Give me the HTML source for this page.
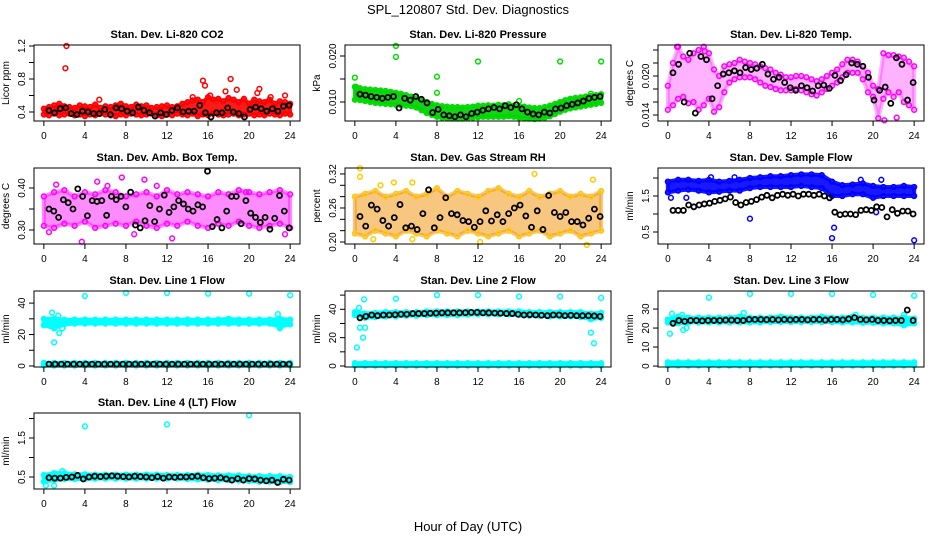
<!DOCTYPE html>
<html><head><meta charset="utf-8"><style>
body{margin:0;background:#fff;}
svg{display:block;font-family:"Liberation Sans",sans-serif;}
</style></head><body>
<svg id="chart" width="936" height="540" viewBox="0 0 936 540">
<text x="468" y="14" text-anchor="middle" font-size="13">SPL_120807  Std. Dev. Diagnostics</text>
<text x="468" y="531" text-anchor="middle" font-size="13">Hour of Day (UTC)</text>
</svg>
<script>
const hourTicks=[0,4,8,12,16,20,24];
const co2Hi=[0.44,0.46,0.48,0.5,0.47,0.46,0.45,0.48,0.47,0.46,0.49,0.45,0.47,0.46,0.48,0.5,0.47,0.46,0.49,0.47,0.48,0.45,0.46,0.47,0.48,0.46,0.47,0.5,0.52,0.54,0.55,0.52,0.58,0.55,0.56,0.53,0.57,0.55,0.52,0.56,0.5,0.55,0.53,0.52,0.55,0.5,0.53,0.52,0.5];
const co2Lo=[0.37,0.36,0.38,0.36,0.37,0.38,0.36,0.37,0.35,0.37,0.36,0.38,0.37,0.36,0.35,0.37,0.36,0.38,0.37,0.36,0.37,0.38,0.36,0.35,0.37,0.36,0.38,0.37,0.36,0.38,0.35,0.37,0.36,0.38,0.37,0.36,0.37,0.38,0.36,0.37,0.38,0.36,0.37,0.36,0.38,0.37,0.36,0.38,0.37];
const co2Black=[0.42,0.39,0.44,0.45,0.38,0.37,0.41,0.4,0.38,0.38,0.43,0.37,0.45,0.44,0.41,0.39,0.46,0.42,0.39,0.35,0.39,0.37,0.42,0.45,0.4,0.41,0.41,0.48,0.39,0.34,0.39,0.39,0.45,0.4,0.38,0.34,0.43,0.46,0.44,0.41,0.44,0.41,0.47,0.48];
const co2OutX=[2.2,2.1,15.5,15.7,18.2,18.8,17.7,21,20.8,14.5,23.5,22.1,5.4,16.2];
const co2OutY=[1.2,0.93,0.78,0.72,0.8,0.67,0.65,0.68,0.63,0.58,0.6,0.58,0.55,0.6];
const presHi=[0.0133,0.013,0.0128,0.0127,0.0126,0.0125,0.0124,0.0122,0.012,0.0118,0.0115,0.0112,0.0108,0.0104,0.01,0.0096,0.0093,0.0091,0.009,0.0089,0.0089,0.0088,0.0089,0.009,0.0092,0.0092,0.0093,0.0092,0.0094,0.0093,0.0095,0.0092,0.0091,0.009,0.0088,0.0087,0.0087,0.0089,0.0092,0.0096,0.01,0.0104,0.0107,0.0109,0.011,0.0112,0.0113,0.0115,0.0117];
const presLo=[0.0105,0.0104,0.0102,0.01,0.0098,0.0097,0.0096,0.0095,0.0094,0.0093,0.0092,0.0091,0.0088,0.0082,0.0076,0.0072,0.0068,0.0066,0.0065,0.0064,0.0064,0.0064,0.0065,0.0066,0.0067,0.0068,0.0068,0.0068,0.0068,0.0068,0.0069,0.0068,0.0066,0.0065,0.0064,0.0063,0.0064,0.0066,0.0069,0.0074,0.0079,0.0083,0.0086,0.0088,0.009,0.0092,0.0094,0.0096,0.0098];
const presBlack=[0.0117,0.0115,0.0112,0.011,0.0108,0.011,0.0112,0.0087,0.0108,0.0104,0.0112,0.0106,0.0098,0.0077,0.0084,0.0072,0.007,0.0068,0.0072,0.0068,0.0075,0.0078,0.0082,0.0085,0.0088,0.0085,0.0092,0.0088,0.0094,0.0085,0.0078,0.0074,0.0072,0.0078,0.0076,0.0085,0.0087,0.0092,0.0095,0.0098,0.0102,0.0108,0.011,0.0112];
const presOutX=[0,4,4,8,8,12,20,24,16,0.1,23];
const presOutY=[0.0153,0.0222,0.0198,0.0155,0.012,0.0188,0.0188,0.0188,0.0102,0.0133,0.0118];
const tempHi=[0.0185,0.022,0.0245,0.023,0.0225,0.0235,0.024,0.0245,0.0235,0.021,0.02,0.0215,0.0218,0.022,0.0225,0.0222,0.022,0.0218,0.0215,0.0212,0.021,0.0205,0.0202,0.0198,0.0198,0.02,0.02,0.0198,0.0195,0.0192,0.0195,0.02,0.0205,0.021,0.0218,0.0225,0.0225,0.0222,0.0215,0.0205,0.0185,0.018,0.0235,0.0232,0.0232,0.023,0.0228,0.0222,0.0215];
const tempLo=[0.0148,0.0155,0.0165,0.0168,0.0158,0.016,0.0148,0.0155,0.0165,0.0145,0.0152,0.0175,0.019,0.0195,0.0198,0.0198,0.0198,0.0195,0.019,0.0185,0.0183,0.018,0.0178,0.0178,0.0178,0.018,0.0178,0.0175,0.0172,0.017,0.0175,0.018,0.0185,0.019,0.0198,0.0205,0.0205,0.0205,0.0195,0.0175,0.0168,0.0135,0.0165,0.0175,0.0168,0.0175,0.016,0.0155,0.0148];
const tempBlack=[0.0205,0.0218,0.016,0.0235,0.0143,0.023,0.0225,0.0165,0.0185,0.0203,0.0205,0.0208,0.0205,0.0213,0.021,0.0212,0.0218,0.0203,0.0195,0.0198,0.019,0.0182,0.0178,0.0185,0.0182,0.0177,0.0185,0.0186,0.0181,0.0201,0.0193,0.0202,0.022,0.0218,0.0215,0.0198,0.0163,0.0178,0.0183,0.0158,0.0228,0.0218,0.0163,0.019];
const tempOutX=[0.9,3.6,21.1,22.3];
const tempOutY=[0.0245,0.0238,0.0132,0.0136];
const ambHi=[0.38,0.39,0.395,0.38,0.39,0.385,0.395,0.39,0.38,0.385,0.39,0.38,0.395,0.385,0.39,0.385,0.38,0.39,0.385,0.395,0.39,0.385,0.39,0.395,0.385];
const ambLo=[0.31,0.305,0.315,0.31,0.32,0.305,0.31,0.315,0.31,0.32,0.31,0.305,0.315,0.31,0.32,0.31,0.305,0.315,0.31,0.32,0.31,0.305,0.31,0.315,0.305];
const ambBlack=[0.35,0.345,0.33,0.372,0.365,0.35,0.398,0.38,0.334,0.37,0.368,0.37,0.335,0.38,0.372,0.38,0.355,0.39,0.312,0.305,0.322,0.358,0.32,0.35,0.383,0.342,0.355,0.37,0.362,0.35,0.345,0.36,0.355,0.44,0.308,0.325,0.305,0.345,0.38,0.38,0.315,0.37,0.34,0.33,0.318,0.33,0.302,0.328,0.382,0.345,0.305];
const ambOutX=[3.7,12.5,11,9.8,1.2,5.2,6.2,19.7,0.5,8.8,23.5,7.6];
const ambOutY=[0.272,0.28,0.405,0.42,0.408,0.415,0.405,0.39,0.295,0.29,0.29,0.425];
const rhHi=[0.28,0.285,0.29,0.28,0.285,0.29,0.28,0.285,0.295,0.28,0.29,0.285,0.28,0.29,0.295,0.285,0.28,0.29,0.28,0.285,0.29,0.28,0.285,0.28,0.29];
const rhLo=[0.215,0.21,0.22,0.215,0.21,0.22,0.215,0.21,0.22,0.215,0.21,0.22,0.215,0.21,0.215,0.22,0.21,0.215,0.22,0.21,0.215,0.22,0.21,0.215,0.22];
const rhBlack=[0.245,0.228,0.265,0.258,0.238,0.228,0.243,0.266,0.225,0.228,0.222,0.25,0.292,0.225,0.243,0.278,0.25,0.248,0.238,0.236,0.226,0.236,0.255,0.237,0.248,0.236,0.25,0.26,0.265,0.246,0.226,0.255,0.222,0.282,0.252,0.245,0.252,0.236,0.236,0.23,0.242,0.258,0.245];
const rhOutX=[0.5,0.5,2.5,3.8,5.6,17.5,23.2,5.6,1.8,12.2,22.6];
const rhOutY=[0.33,0.315,0.3,0.305,0.305,0.32,0.31,0.205,0.205,0.2,0.195];
const flowHi=[1.9,1.95,1.95,1.92,1.95,1.9,1.92,1.95,2.0,2.02,2.05,2.05,2.08,2.1,2.1,2.08,1.9,1.8,1.82,1.85,1.78,1.75,1.75,1.78,1.75];
const flowLo=[1.6,1.65,1.68,1.65,1.6,1.62,1.65,1.65,1.72,1.75,1.75,1.75,1.75,1.78,1.75,1.72,1.5,1.5,1.55,1.55,1.45,1.5,1.5,1.5,1.5];
const flowBlack=[1.1,1.1,1.1,1.25,1.2,1.25,1.28,1.3,1.35,1.38,1.42,1.47,1.32,1.25,1.32,1.35,1.4,1.47,1.52,1.45,1.52,1.55,1.52,1.55,1.5,1.55,1.55,1.52,1.55,1.5,1.45,1.05,0.98,1.0,1.0,0.98,1.1,1.12,1.1,1.2,1.18,0.92,1.12,1.02,1.08,1.08,1.0];
const flowOutX=[8,16,16.2,24,0.3,1.8,20.3,20.8,18.8,4.2,6.5];
const flowOutY=[0.87,0.33,0.62,0.27,1.45,1.45,1.05,1.95,1.95,2.02,2.02];
const baseHi=[2,2,2,2,2,2,2,2,2,2,2,2,2,2,2,2,2,2,2,2,2,2,2,2,2];
const baseLo=[0.3,0.3,0.3,0.3,0.3,0.3,0.3,0.3,0.3,0.3,0.3,0.3,0.3,0.3,0.3,0.3,0.3,0.3,0.3,0.3,0.3,0.3,0.3,0.3,0.3];
const l1Hi=[30,30,29.5,29.5,29.5,29.5,29.5,29.5,29.5,29.5,29.5,29.5,29.5,29.5,29.5,29.5,29.5,29.5,30,29.5,29.5,29.5,29.5,30,29.5];
const l1Lo=[26,24,26.5,27,27,27,27,27,27,27,27,27,27,27,27,27,27,27,27,27,27,27,27,25,26.5];
const l1Black=[1.2,1.2,1.2,1.2,1.2,1.2,1.2,1.2,1.2,1.2,1.2,1.2,1.2,1.2,1.2,1.2,1.2,1.2,1.2,1.2,1.2,1.2,1.2,1.2,1.2,1.2,1.2,1.2,1.2,1.2,1.2,1.2,1.2,1.2,1.2,1.2,1.2,1.2,1.2,1.2];
const l1OutX=[4,8,12,16,20,24,1,0.8,1.4,1.5,1.8,22.8,23];
const l1OutY=[44.5,46.5,46.5,46,46,45,15,34,32,21,24,33,24];
const l2Hi=[38,37,37.5,38,38,38,38,38.5,38.5,38.5,38.5,38.5,38.5,38.5,38.5,38.5,38.5,38,38,38,38,38,38,37,37.5];
const l2Lo=[36,34,34.5,35,35,35.5,35.5,36,36,36,36,36.2,36.5,36.5,36.5,36.5,36,35.5,35.5,35,35,35,34.5,33,34];
const l2Black=[34,35,36,35.5,36,36,36.2,36.5,36.5,37,37,37,37.2,37.3,37.5,37.5,37.5,37.5,37.6,37.8,37.8,37.5,37.5,37.3,37.2,37,37,36.5,36,36.2,36,35.8,35.5,36,36,35.5,35.8,35.5,35.5,35.5,35.3,35];
const l2OutX=[0.2,0.4,0.5,0.8,0.9,1,4,8,12,16,20,24,23,23.3];
const l2OutY=[13,41,27,20,47,27,47.5,50,50,49,49,48,23.5,16];
const l3Hi=[24.5,26,25.5,25.5,25.5,25.5,25.5,26,25.5,25.5,25.5,26,25.5,25.5,25.5,26,25.5,25.5,26,25.5,25.5,25.5,25.5,25.5,25];
const l3Lo=[23,22.5,23,23,23,23,23,23,23,23,23.2,23.2,23.2,23.2,23.2,23.2,23.2,23,23,22.8,22.8,22.5,22.5,21.5,22.5];
const l3Black=[22.5,24,23.5,24,24,23.8,24,24,24,24.2,24.2,24,24,24.5,24.5,24.5,24.4,24.5,24.3,24.5,24.3,24.5,24.5,24.3,24.5,24.5,24.2,24.5,24.5,24.3,24.8,25.5,24.5,24.3,24.5,24,24,23.8,24,24,29.5,24];
const l3OutX=[0.2,0.4,1.5,1.8,1.4,4,8,12,16,20,24,7.4,18.3,23];
const l3OutY=[17,27.5,19,20,27,36,38,38,38,37.5,37,28,27,27];
const l4Hi=[0.55,0.6,0.6,0.57,0.57,0.56,0.56,0.56,0.56,0.56,0.56,0.56,0.55,0.55,0.55,0.56,0.55,0.54,0.54,0.54,0.52,0.52,0.52,0.52,0.5];
const l4Lo=[0.38,0.42,0.45,0.45,0.45,0.46,0.46,0.46,0.46,0.46,0.46,0.46,0.46,0.46,0.45,0.44,0.43,0.42,0.42,0.41,0.4,0.38,0.38,0.37,0.37];
const l4Black=[0.48,0.47,0.47,0.49,0.5,0.54,0.45,0.5,0.52,0.51,0.52,0.53,0.52,0.51,0.5,0.52,0.51,0.5,0.48,0.51,0.47,0.5,0.49,0.5,0.5,0.51,0.52,0.48,0.46,0.47,0.48,0.45,0.42,0.46,0.42,0.46,0.45,0.42,0.4,0.42,0.36,0.44,0.42];
const l4OutX=[4,12,20,0.2,1,1.8];
const l4OutY=[1.8,1.85,2.08,0.28,0.28,0.65];

const NS='http://www.w3.org/2000/svg';
const svg=document.getElementById('chart');
function mk(tag,attrs,parent){const e=document.createElementNS(NS,tag);for(const k in attrs)e.setAttribute(k,attrs[k]);(parent||svg).appendChild(e);return e;}

const cols=[34,345,658], colW=266, rows=[45,168,291,413], rowH=76;
const panels=[
 {name:'co2',title:'Stan. Dev. Li-820 CO2',ylab:'Licor ppm',c:0,r:0,dom:[0.291,1.212],ticks:[0.4,0.6,0.8,1.0,1.2],labs:['0.4',null,'0.8',null,'1.2'],col:'#ff0000',fill:'#ff0000',op:0.9,bands:[[co2Hi,co2Lo]],black:co2Black,ox:co2OutX,oy:co2OutY},
 {name:'pressure',title:'Stan. Dev. Li-820 Pressure',ylab:'kPa',c:1,r:0,dom:[0.00587,0.02239],ticks:[0.010,0.015,0.020],labs:['0.010',null,'0.020'],col:'#00dd00',fill:'#00cc00',op:0.9,bands:[[presHi,presLo]],black:presBlack,ox:presOutX,oy:presOutY},
 {name:'temp',title:'Stan. Dev. Li-820 Temp.',ylab:'degrees C',c:2,r:0,dom:[0.01308,0.02477],ticks:[0.014,0.016,0.018,0.020,0.022,0.024],labs:['0.014',null,null,'0.020',null,null],col:'#ff00ff',fill:'#ff00ff',op:0.3,bands:[[tempHi,tempLo]],black:tempBlack,ox:tempOutX,oy:tempOutY},
 {name:'amb-box-temp',title:'Stan. Dev. Amb. Box Temp.',ylab:'degrees C',c:0,r:1,dom:[0.2667,0.4476],ticks:[0.30,0.35,0.40],labs:['0.30',null,'0.40'],col:'#ff00ff',fill:'#ff00ff',op:0.45,bands:[[ambHi,ambLo]],black:ambBlack,ox:ambOutX,oy:ambOutY},
 {name:'gas-rh',title:'Stan. Dev. Gas Stream RH',ylab:'percent',c:1,r:1,dom:[0.1965,0.3305],ticks:[0.20,0.22,0.24,0.26,0.28,0.30,0.32],labs:['0.20',null,null,'0.26',null,null,'0.32'],col:'#ffcc00',fill:'#f09000',op:0.5,bands:[[rhHi,rhLo]],black:rhBlack,ox:rhOutX,oy:rhOutY},
 {name:'sample-flow',title:'Stan. Dev. Sample Flow',ylab:'ml/min',c:2,r:1,dom:[0.167,2.278],ticks:[0.5,1.0,1.5,2.0],labs:['0.5',null,'1.5',null],col:'#0000ff',fill:'#0000ff',op:0.9,bands:[[flowHi,flowLo]],black:flowBlack,ox:flowOutX,oy:flowOutY},
 {name:'line1-flow',title:'Stan. Dev. Line 1 Flow',ylab:'ml/min',c:0,r:2,dom:[-0.65,47.7],ticks:[0,10,20,30,40],labs:['0',null,'20',null,'40'],col:'#00ffff',fill:'#00ffff',op:1,bands:[[l1Hi,l1Lo],[baseHi,baseLo]],black:l1Black,ox:l1OutX,oy:l1OutY},
 {name:'line2-flow',title:'Stan. Dev. Line 2 Flow',ylab:'ml/min',c:1,r:2,dom:[-0.7,52.9],ticks:[0,10,20,30,40,50],labs:['0',null,'20',null,'40',null],col:'#00ffff',fill:'#00ffff',op:1,bands:[[l2Hi,l2Lo],[baseHi,baseLo]],black:l2Black,ox:l2OutX,oy:l2OutY},
 {name:'line3-flow',title:'Stan. Dev. Line 3 Flow',ylab:'ml/min',c:2,r:2,dom:[-0.5,39.5],ticks:[0,10,20,30],labs:['0','10','20','30'],col:'#00ffff',fill:'#00ffff',op:1,bands:[[l3Hi,l3Lo],[baseHi,baseLo]],black:l3Black,ox:l3OutX,oy:l3OutY},
 {name:'line4-flow',title:'Stan. Dev. Line 4 (LT) Flow',ylab:'ml/min',c:0,r:3,dom:[0.192,2.141],ticks:[0.5,1.0,1.5,2.0],labs:['0.5',null,'1.5',null],col:'#00ffff',fill:'#00ffff',op:1,bands:[[l4Hi,l4Lo]],black:l4Black,ox:l4OutX,oy:l4OutY}
];

panels.forEach(p=>{
 const L=cols[p.c], T=rows[p.r], R=L+colW, B=T+rowH;
 const xs=v=>L+(v+0.96)/25.92*colW;
 const ys=v=>B-(v-p.dom[0])/(p.dom[1]-p.dom[0])*rowH;
 const g=mk('g',{});
 
 
 const t=mk('text',{x:(L+R)/2,y:T-7,'text-anchor':'middle','font-size':'11','font-weight':'bold'},g);
 t.textContent=p.title;
 
 
 const yl=mk('text',{x:0,y:0,'text-anchor':'middle','font-size':'10',transform:`translate(${L-25},${(T+B)/2}) rotate(-90)`},g);
 yl.textContent=p.ylab;
 
 
 const clip=mk('g',{},g);
 p.bands.forEach((bd,bi)=>{
  const hi=bd[0], lo=bd[1], n=hi.length;
  const xv=i=>i*24/(n-1);
  let pts=hi.map((v,i)=>xs(xv(i))+','+ys(v)).concat(lo.map((v,i)=>[i,v]).reverse().map(a=>xs(xv(a[0]))+','+ys(a[1])));
  const poly=mk('polygon',{points:pts.join(' '),fill:p.fill,'fill-opacity':p.op,stroke:p.fill,'stroke-width':4,'stroke-opacity':p.op,'stroke-linejoin':'round'},clip);
  
  
  [hi,lo].forEach(arr=>arr.forEach((v,i)=>{
   const c=mk('circle',{cx:xs(xv(i)),cy:ys(v),r:2.4,fill:'none',stroke:p.col,'stroke-width':1.5},clip);
   
   
  }));
 });
 p.ox.forEach((x,i)=>{
  const c=mk('circle',{cx:xs(x),cy:ys(p.oy[i]),r:2.4,fill:'none',stroke:p.col,'stroke-width':1.5},clip);
  
  
 });
 const nb=p.black.length;
 p.black.forEach((v,i)=>{
  const c=mk('circle',{cx:xs(0.5+i*(23.9-0.5)/(nb-1)),cy:ys(v),r:2.5,fill:'none',stroke:'#000','stroke-width':1.8},clip);
  
  
 });
 const box=mk('rect',{x:L,y:T,width:colW,height:rowH,fill:'none',stroke:'#000','stroke-width':1},g);
 
 
 mk('line',{x1:xs(0),x2:xs(24),y1:B,y2:B,stroke:'#000'},g);
 hourTicks.forEach(h=>{
  mk('line',{x1:xs(h),x2:xs(h),y1:B,y2:B+5,stroke:'#000'},g);
  const tl=mk('text',{x:xs(h),y:B+18,'text-anchor':'middle','font-size':'10'},g);
  tl.textContent=h;
  
  
 });
 const tk=p.ticks;
 mk('line',{x1:L,x2:L,y1:ys(tk[0]),y2:ys(tk[tk.length-1]),stroke:'#000'},g);
 tk.forEach((v,i)=>{
  mk('line',{x1:L-5,x2:L,y1:ys(v),y2:ys(v),stroke:'#000'},g);
  if(p.labs[i]){
   const tl=mk('text',{x:0,y:0,'text-anchor':'middle','font-size':'10',transform:`translate(${L-9},${ys(v)}) rotate(-90)`},g);
   tl.textContent=p.labs[i];
   
   
  }
 });
});
</script>
</body></html>
